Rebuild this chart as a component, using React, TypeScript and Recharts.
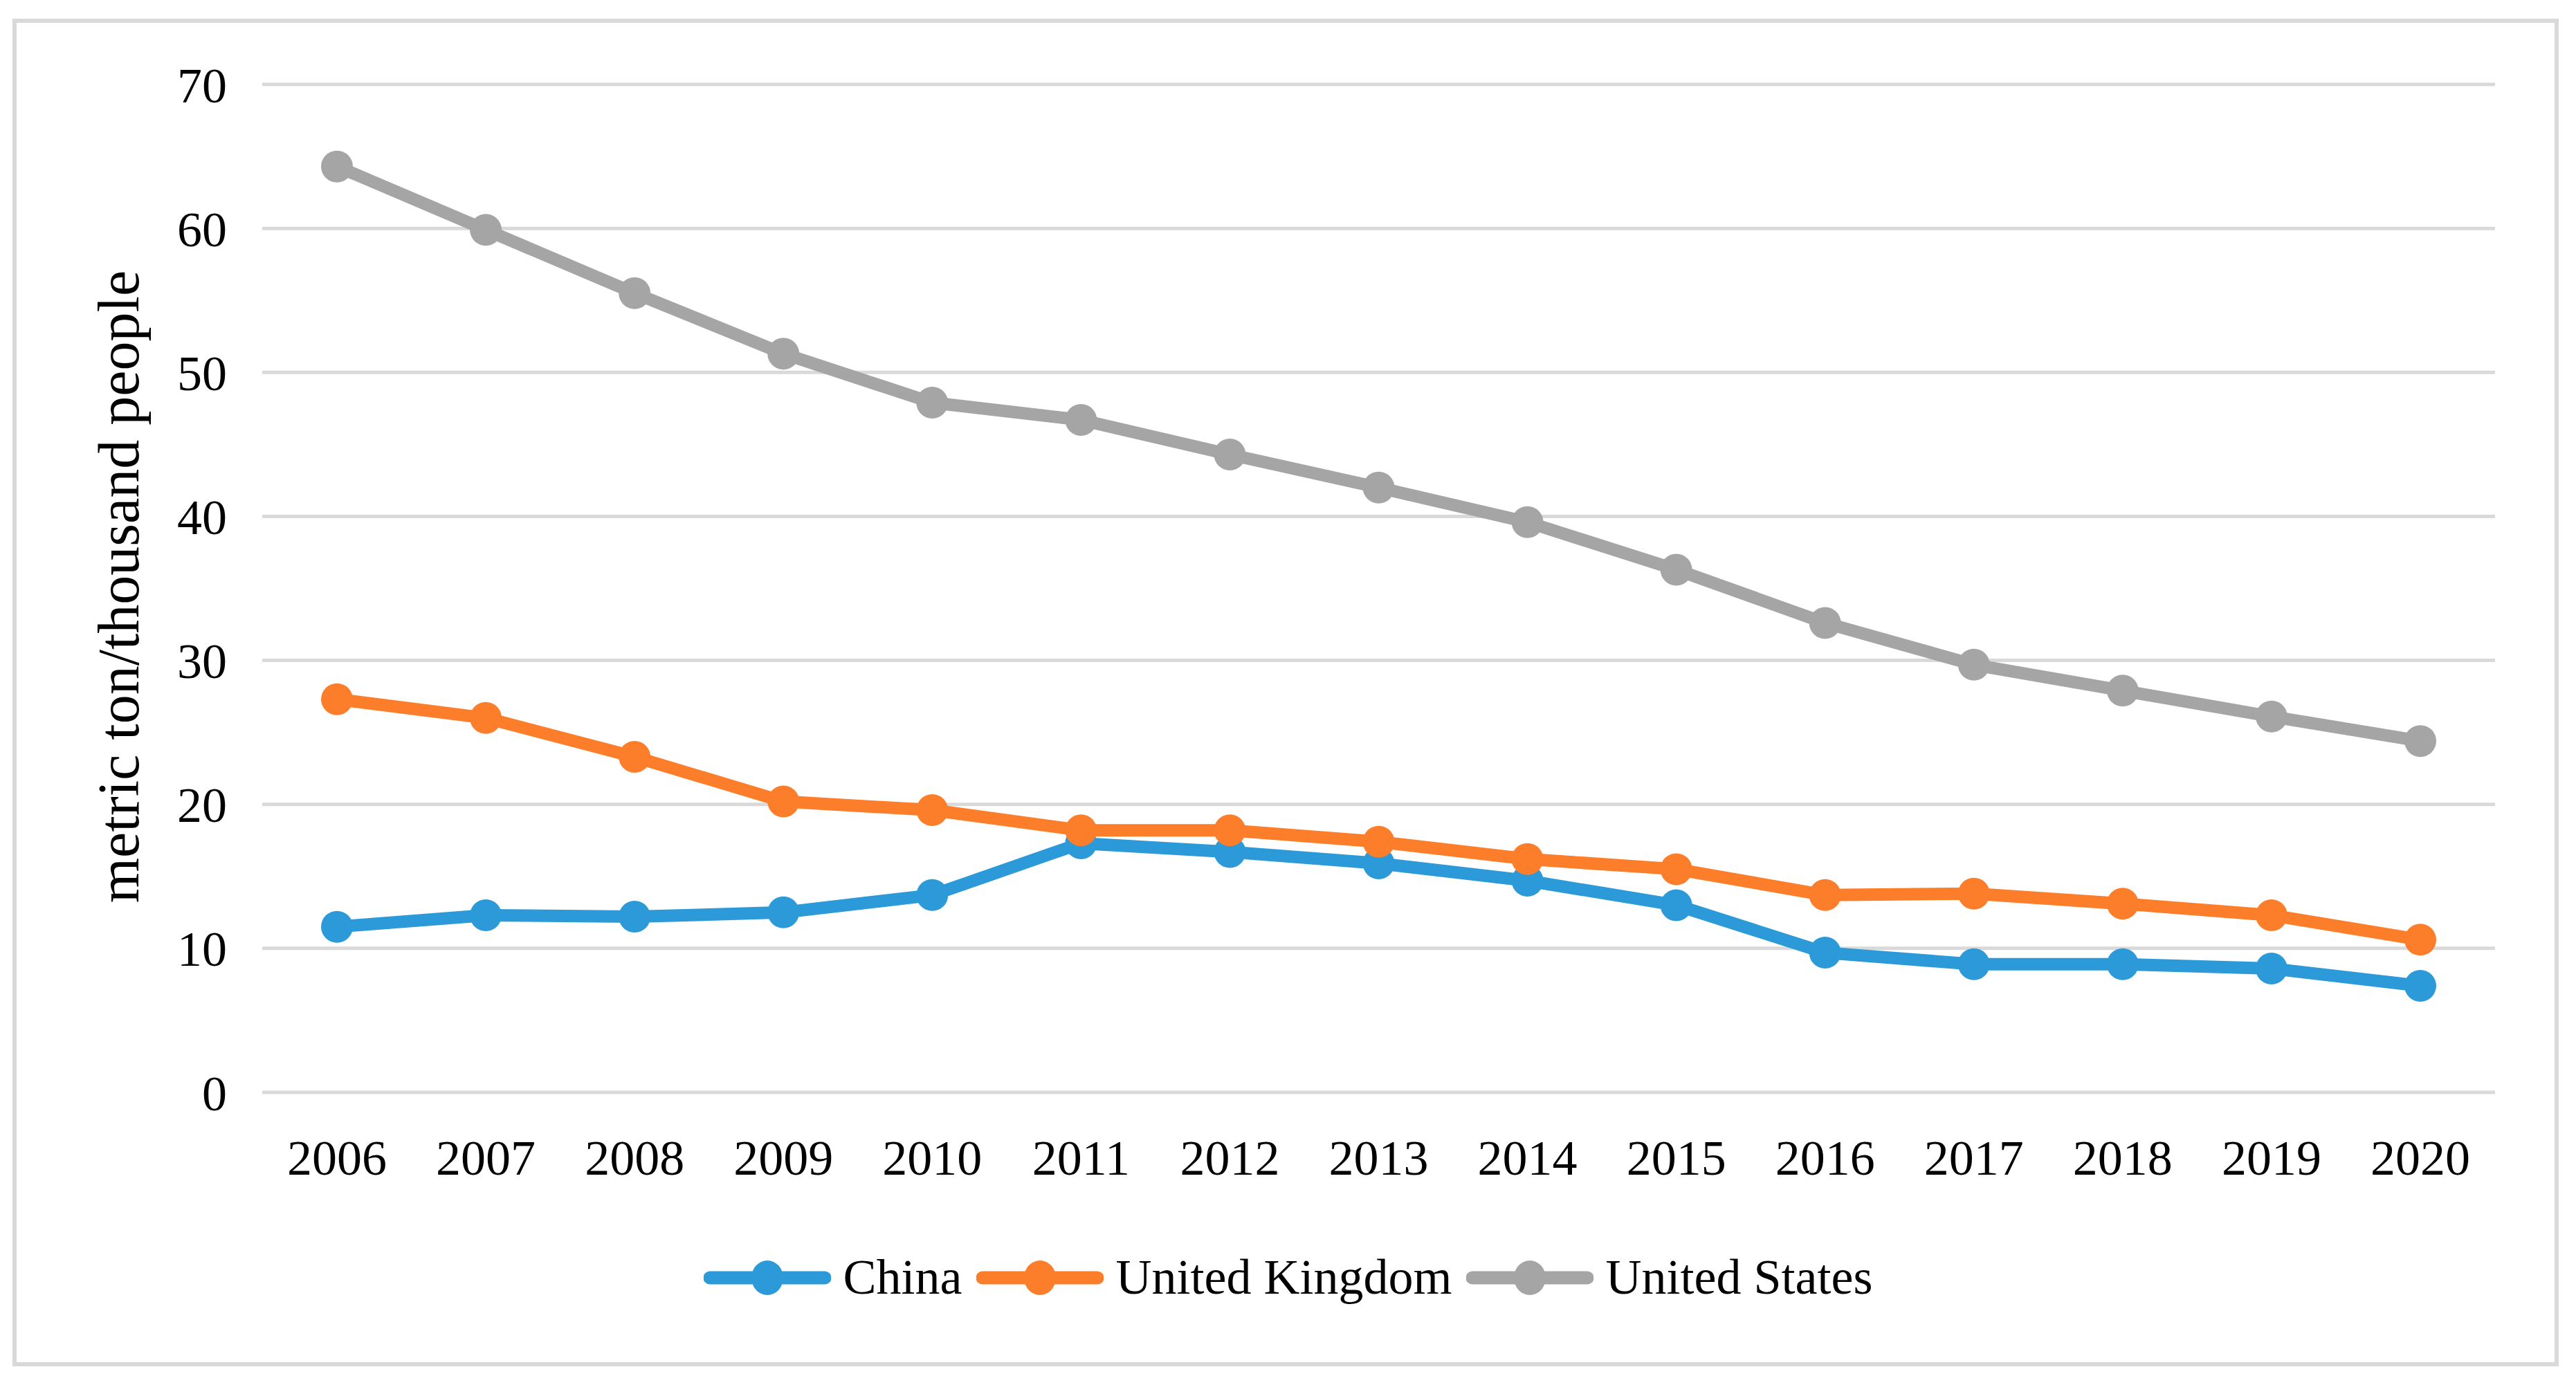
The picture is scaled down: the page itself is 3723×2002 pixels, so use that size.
import React from 'react';
import { LineChart, Line, XAxis, YAxis, CartesianGrid, Legend } from 'recharts';

const years = ['2006', '2007', '2008', '2009', '2010', '2011', '2012', '2013', '2014', '2015', '2016', '2017', '2018', '2019', '2020'];
const china = [11.5, 12.3, 12.2, 12.5, 13.7, 17.3, 16.7, 15.9, 14.7, 13.0, 9.7, 8.9, 8.9, 8.6, 7.4];
const unitedKingdom = [27.3, 26.0, 23.3, 20.2, 19.6, 18.2, 18.2, 17.4, 16.2, 15.5, 13.7, 13.8, 13.1, 12.3, 10.6];
const unitedStates = [64.3, 59.9, 55.5, 51.3, 47.9, 46.7, 44.3, 42.0, 39.6, 36.3, 32.6, 29.7, 27.9, 26.1, 24.4];
const yTicks = [0, 10, 20, 30, 40, 50, 60, 70];

const seriesNames = ['China', 'United Kingdom', 'United States'];
const seriesColors = ['#2C9AD8', '#FD7E2A', '#A5A5A5'];

const data = years.map((year, i) => ({
  year,
  China: china[i],
  'United Kingdom': unitedKingdom[i],
  'United States': unitedStates[i],
}));

const FONT = '"Liberation Serif", "Times New Roman", serif';

const renderTitle = () => (
  <text
    x={200}
    y={848}
    transform="rotate(-90 200 848)"
    textAnchor="middle"
    fontFamily={FONT}
    fontSize={84}
    fill="#000"
  >
    metric ton/thousand people
  </text>
);

type LegendItem = { value?: string; color?: string };

// legend swatch: thick line with a dot in the middle, like the series
const renderLegend = (props: { payload?: LegendItem[] }) => {
  const items = props.payload || [];
  return (
    <div style={{ display: 'flex', justifyContent: 'center', alignItems: 'center', height: 100 }}>
      {items.map((item, i) => (
        <div key={item.value} style={{ display: 'flex', alignItems: 'center', marginRight: i < items.length - 1 ? 20 : 0 }}>
          <svg width={184} height={52} style={{ display: 'block' }}>
            <line x1={9} y1={26} x2={175} y2={26} stroke={item.color} strokeWidth={19} strokeLinecap="round" />
            <ellipse cx={92} cy={26} rx={23} ry={25} fill={item.color} />
          </svg>
          <span style={{ marginLeft: 18, fontFamily: FONT, fontSize: 72, color: '#000', lineHeight: 1.1 }}>{item.value}</span>
        </div>
      ))}
    </div>
  );
};

export default function App() {
  return (
    <div style={{ position: 'absolute', left: 0, top: 0, width: 3723, height: 2002, background: '#fff' }}>
      <div
        style={{
          position: 'absolute',
          left: 18,
          top: 27,
          width: 3680,
          height: 1948,
          border: '6px solid #d9d9d9',
          boxSizing: 'border-box',
        }}
      />
      <div style={{ position: 'absolute', left: 0, top: 0 }}>
        <LineChart width={3723} height={2002} data={data} margin={{ top: 122, right: 117, bottom: 323, left: 0 }}>
          <CartesianGrid vertical={false} stroke="#d9d9d9" strokeWidth={5} />
          <XAxis
            dataKey="year"
            height={100}
            padding={{ left: 108, right: 108 }}
            axisLine={false}
            tickLine={false}
            tickSize={0}
            tickMargin={68}
            tick={{ fontSize: 72, fill: '#000', fontFamily: FONT }}
          />
          <YAxis
            width={379}
            domain={[0, 70]}
            ticks={yTicks}
            axisLine={false}
            tickLine={false}
            tickSize={0}
            tickMargin={51}
            tick={{ fontSize: 72, fill: '#000', fontFamily: FONT }}
            label={renderTitle}
          />
          <Legend
            layout="horizontal"
            verticalAlign="middle"
            align="center"
            wrapperStyle={{ left: 0, top: 1797, width: 3723, height: 100 }}
            content={renderLegend}
          />
          {seriesNames.map((name, i) => (
            <Line
              key={name}
              type="linear"
              dataKey={name}
              stroke={seriesColors[i]}
              strokeWidth={18}
              strokeLinejoin="round"
              dot={{ r: 23, fill: seriesColors[i], stroke: seriesColors[i], strokeWidth: 0 }}
              activeDot={false}
              isAnimationActive={false}
            />
          ))}
        </LineChart>
      </div>
    </div>
  );
}
